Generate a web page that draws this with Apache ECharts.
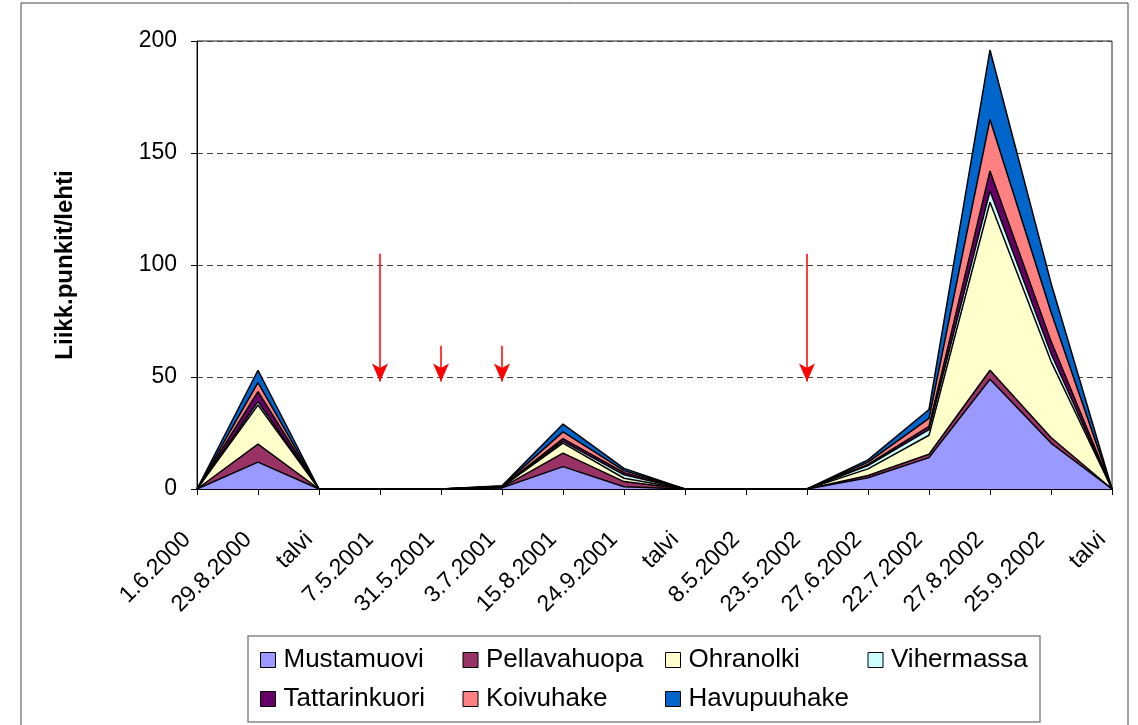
<!DOCTYPE html>
<html>
<head>
<meta charset="utf-8">
<script src="https://cdn.jsdelivr.net/npm/echarts@6/dist/echarts.min.js"></script>
<style>
  html, body { margin: 0; padding: 0; background: #fff; }
  #chart { width: 1138px; height: 725px; }
</style>
</head>
<body>
<div id="chart"></div>
<script>
const categories = ['1.6.2000', '29.8.2000', 'talvi', '7.5.2001', '31.5.2001', '3.7.2001', '15.8.2001', '24.9.2001',
  'talvi', '8.5.2002', '23.5.2002', '27.6.2002', '22.7.2002', '27.8.2002', '25.9.2002', 'talvi']

const mustamuovi    = [0, 12,   0, 0, 0, 0.5, 10,  1,   0, 0, 0, 5,   14,  49, 20.5, 0]
const pellavahuopa  = [0, 8,    0, 0, 0, 0.2, 6,   2.3, 0, 0, 0, 1,   1.5, 4,  2.5,  0]
const ohranolki     = [0, 17.5, 0, 0, 0, 0.2, 4.5, 1.5, 0, 0, 0, 3,   8.5, 75, 34,   0]
const vihermassa    = [0, 1.5,  0, 0, 0, 0.1, 0.8, 1.5, 0, 0, 0, 1.5, 2.5, 5,  3.5,  0]
const tattarinkuori = [0, 4.5,  0, 0, 0, 0.1, 1.2, 1,   0, 0, 0, 0.5, 1.5, 9,  5.5,  0]
const koivuhake     = [0, 4,    0, 0, 0, 0.1, 3,   0.9, 0, 0, 0, 1,   3.5, 23, 13,   0]
const havupuuhake   = [0, 5.5,  0, 0, 0, 0.2, 3.5, 1,   0, 0, 0, 1,   4,   31, 13,   0]

// red arrows: [category index, start value, end value]
const arrows = [[3, 105, 48], [4, 64, 48], [5, 64, 48], [10, 105, 48]]

const seriesDefs = [
  { name: 'Mustamuovi', data: mustamuovi, color: '#9999FF' },
  { name: 'Pellavahuopa', data: pellavahuopa, color: '#993366' },
  { name: 'Ohranolki', data: ohranolki, color: '#FFFFCC' },
  { name: 'Vihermassa', data: vihermassa, color: '#CCFFFF' },
  { name: 'Tattarinkuori', data: tattarinkuori, color: '#660066' },
  { name: 'Koivuhake', data: koivuhake, color: '#FF8080' },
  { name: 'Havupuuhake', data: havupuuhake, color: '#0066CC' }
]

const font = 'Liberation Sans, Arial, sans-serif'
const chart = echarts.init(document.getElementById('chart'))

const series = seriesDefs.map(s => ({
  name: s.name,
  type: 'line',
  stack: 'total',
  data: s.data,
  showSymbol: false,
  color: s.color,
  lineStyle: { color: '#000', width: 1.5 },
  areaStyle: { color: s.color, opacity: 1 },
  itemStyle: { color: s.color, borderColor: '#000', borderWidth: 1 }
}))

series.push({
  name: 'nuolet',
  type: 'line',
  data: [],
  markLine: {
    silent: true,
    symbol: ['none', 'arrow'],
    symbolSize: [12, 18],
    label: { show: false },
    lineStyle: { color: '#FF0000', width: 1.5, type: 'solid' },
    data: arrows.map(a => [{ coord: [a[0], a[1]] }, { coord: [a[0], a[2]] }])
  }
})

const option = {
  animation: false,
  backgroundColor: '#fff',
  graphic: [
    {
      type: 'rect',
      shape: { x: 21, y: 3, width: 1107, height: 800 },
      style: { fill: 'none', stroke: '#444', lineWidth: 1 }
    },
    {
      type: 'rect',
      shape: { x: 248, y: 636, width: 792, height: 86 },
      style: { fill: 'none', stroke: '#888', lineWidth: 1.5 }
    }
  ],
  grid: {
    left: 197,
    right: 26,
    top: 41,
    bottom: 236,
    show: true,
    borderColor: '#222',
    borderWidth: 1
  },
  legend: {
    data: seriesDefs.map(s => s.name),
    left: 260,
    top: 647,
    width: 820,
    padding: 0,
    itemWidth: 15,
    itemHeight: 15,
    itemGap: 13,
    icon: 'rect',
    itemStyle: { borderColor: '#000', borderWidth: 1 },
    textStyle: { fontFamily: font, fontSize: 26, color: '#000', width: 166, lineHeight: 25, padding: [0, 0, 0, 3] }
  },
  xAxis: {
    type: 'category',
    data: categories,
    boundaryGap: false,
    axisLine: { lineStyle: { color: '#000', width: 1 } },
    axisTick: { show: true, length: 6, lineStyle: { color: '#000' } },
    axisLabel: {
      interval: 0,
      rotate: 45,
      margin: 37,
      padding: [0, 14, 0, 0],
      fontFamily: font,
      fontSize: 23,
      color: '#000'
    },
    splitLine: { show: false }
  },
  yAxis: {
    type: 'value',
    min: 0,
    max: 200,
    interval: 50,
    name: 'Liikk.punkit/lehti',
    nameLocation: 'middle',
    nameGap: 120,
    nameTextStyle: { fontFamily: font, fontSize: 24, fontWeight: 'bold', color: '#000' },
    axisLine: { show: true, lineStyle: { color: '#000', width: 1 } },
    axisTick: { show: true, length: 6, lineStyle: { color: '#000' } },
    axisLabel: { margin: 20, fontFamily: font, fontSize: 23, color: '#000' },
    splitLine: { show: true, lineStyle: { color: '#444', type: [6, 4], width: 1 } }
  },
  series: series
}

chart.setOption(option)
</script>
</body>
</html>
